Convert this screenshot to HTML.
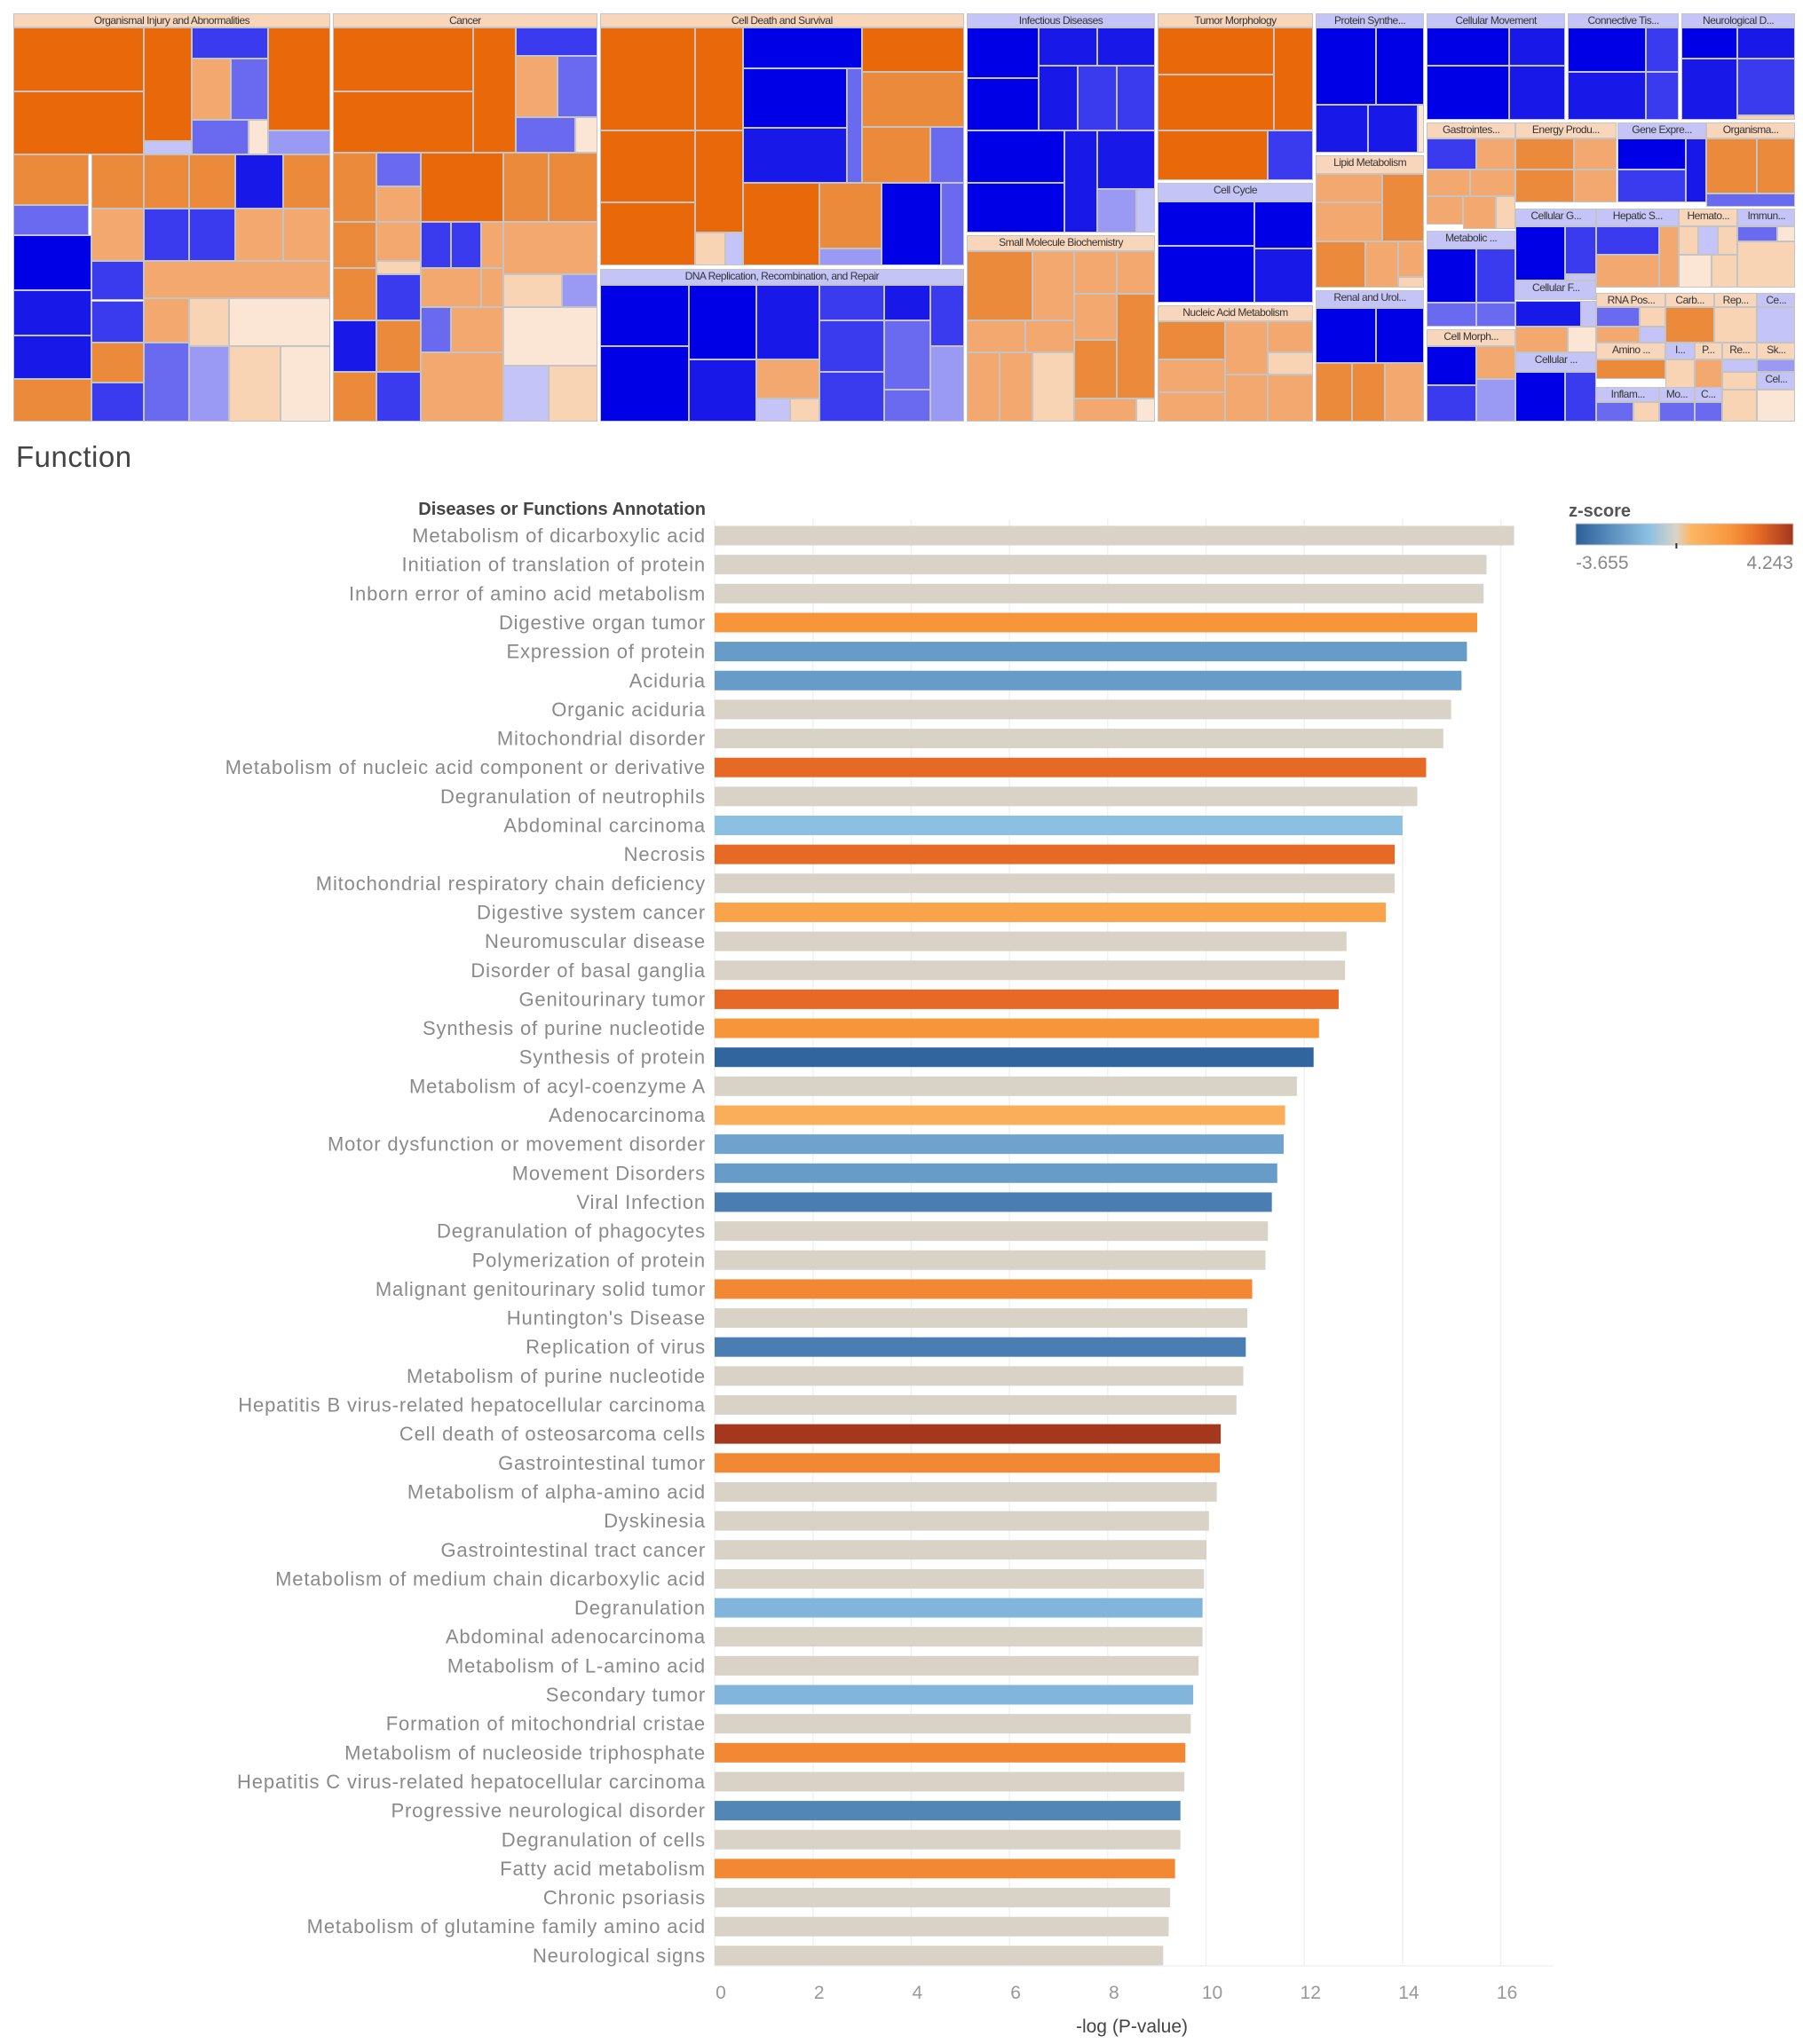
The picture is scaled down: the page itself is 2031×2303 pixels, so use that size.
<!DOCTYPE html>
<html><head><meta charset="utf-8"><style>
html,body{margin:0;padding:0;background:#fff;}
body{width:2031px;height:2303px;position:relative;overflow:hidden;font-family:"Liberation Sans",sans-serif;}
#treemap{position:absolute;left:0;top:0;width:2031px;height:490px;}
.tm{position:absolute;box-sizing:border-box;border:1.5px solid #c4c4c4;overflow:hidden;white-space:nowrap;font-size:12px;color:#333;text-align:center;line-height:14px;letter-spacing:-0.5px;}
#title{position:absolute;left:18px;top:496px;font-size:33px;color:#444;letter-spacing:0.5px;}
svg{position:absolute;left:0;top:0;}
</style></head><body>
<div id="treemap"></div>
<div id="title">Function</div>
<svg id="chart" width="2031" height="2303"></svg>
<script>
// ---------- bar chart data ----------
const categories = ["Metabolism of dicarboxylic acid","Initiation of translation of protein","Inborn error of amino acid metabolism","Digestive organ tumor","Expression of protein","Aciduria","Organic aciduria","Mitochondrial disorder","Metabolism of nucleic acid component or derivative","Degranulation of neutrophils","Abdominal carcinoma","Necrosis","Mitochondrial respiratory chain deficiency","Digestive system cancer","Neuromuscular disease","Disorder of basal ganglia","Genitourinary tumor","Synthesis of purine nucleotide","Synthesis of protein","Metabolism of acyl-coenzyme A","Adenocarcinoma","Motor dysfunction or movement disorder","Movement Disorders","Viral Infection","Degranulation of phagocytes","Polymerization of protein","Malignant genitourinary solid tumor","Huntington's Disease","Replication of virus","Metabolism of purine nucleotide","Hepatitis B virus-related hepatocellular carcinoma","Cell death of osteosarcoma cells","Gastrointestinal tumor","Metabolism of alpha-amino acid","Dyskinesia","Gastrointestinal tract cancer","Metabolism of medium chain dicarboxylic acid","Degranulation","Abdominal adenocarcinoma","Metabolism of L-amino acid","Secondary tumor","Formation of mitochondrial cristae","Metabolism of nucleoside triphosphate","Hepatitis C virus-related hepatocellular carcinoma","Progressive neurological disorder","Degranulation of cells","Fatty acid metabolism","Chronic psoriasis","Metabolism of glutamine family amino acid","Neurological signs"];
const pValues = [16.27,15.71,15.65,15.52,15.31,15.2,14.99,14.83,14.48,14.3,14.0,13.84,13.84,13.66,12.86,12.83,12.7,12.3,12.19,11.85,11.61,11.58,11.45,11.34,11.26,11.21,10.94,10.84,10.81,10.76,10.62,10.3,10.28,10.22,10.06,10.01,9.96,9.93,9.93,9.85,9.74,9.69,9.58,9.56,9.48,9.48,9.37,9.27,9.24,9.13];
const zScores = [null,null,null,2.0,-2.0,-2.0,null,null,3.0,null,-1.0,3.0,null,1.4,null,null,3.0,2.0,-3.5,null,0.9,-1.8,-2.0,-2.8,null,null,2.3,null,-2.8,null,null,4.2,2.3,null,null,null,null,-1.3,null,null,-1.3,null,2.3,null,-2.6,null,2.3,null,null,null];
const xTicks = [0,2,4,6,8,10,12,14,16];
const zRange = [-3.655,4.243];

const svg=document.getElementById('chart');const NS='http://www.w3.org/2000/svg';
function el(t,a,p){const e=document.createElementNS(NS,t);for(const k in a)e.setAttribute(k,a[k]);(p||svg).appendChild(e);return e;}
const X0=805, XU=55.35, Y0=603.5, DY=32.65, BH=22;
const xs=v=>X0+v*XU, ys=i=>Y0+i*DY;
const stops=[[-3.655,[43,95,154]],[-1,[140,192,227]],[0,[217,211,199]],[0.5,[253,183,101]],[2,[247,149,58]],[3,[230,106,38]],[4.243,[163,54,28]]];
function zc(z){if(z===null)return '#d9d3c7';for(let i=0;i<stops.length-1;i++){const a=stops[i],b=stops[i+1];if(z<=b[0]||i==stops.length-2){let t=Math.max(0,Math.min(1,(z-a[0])/(b[0]-a[0])));return 'rgb('+a[1].map((c,j)=>Math.round(c+(b[1][j]-c)*t)).join(',')+')';}}}
// gridlines
xTicks.forEach(t=>{const g=el('line',{x1:xs(t),x2:xs(t),y1:585,y2:2215,stroke:'#f1f1f1','stroke-width':1.5});


const l=el('text',{x:xs(t)+7,y:2252,'font-size':21,fill:'#999','text-anchor':'middle'});l.textContent=t;

});
el('line',{x1:X0,x2:1750,y1:2215,y2:2215,stroke:'#f0f0f0','stroke-width':1.5});
categories.forEach((c,i)=>{
 const r=el('rect',{x:X0,y:ys(i)-BH/2,width:xs(pValues[i])-X0,height:BH,fill:zc(zScores[i])});
 
 
 const t=el('text',{x:795,y:ys(i)+7.5,'font-size':22,'letter-spacing':0.85,fill:'#8a8a8a','text-anchor':'end'});t.textContent=c;
 
 
});
const h=el('text',{x:795,y:580,'font-size':20,'font-weight':'bold',fill:'#444','text-anchor':'end'});h.textContent='Diseases or Functions Annotation';

const xt=el('text',{x:1275,y:2290,'font-size':21,fill:'#444','text-anchor':'middle'});xt.textContent='-log (P-value)';

// legend
const defs=el('defs',{});const lg=el('linearGradient',{id:'zg',x1:0,x2:1,y1:0,y2:0},defs);
stops.forEach(s=>el('stop',{offset:(s[0]-zRange[0])/(zRange[1]-zRange[0]),'stop-color':'rgb('+s[1].join(',')+')'},lg));
const lt=el('text',{x:1767,y:582,'font-size':20,'font-weight':'bold',fill:'#555'});lt.textContent='z-score';

const lr=el('rect',{x:1775,y:590,width:245,height:24,fill:'url(#zg)',stroke:'#ccc'});

el('rect',{x:1775+245*(0-zRange[0])/(zRange[1]-zRange[0])-1,y:612,width:2,height:6,fill:'#333'});
const l1=el('text',{x:1775,y:641,'font-size':21,fill:'#888'});l1.textContent=zRange[0];

const l2=el('text',{x:2020,y:641,'font-size':21,fill:'#888','text-anchor':'end'});l2.textContent=zRange[1];


// ---------- treemap ----------
const C={O:'#e8680a',M:'#ec8a3c',L:'#f2a86e',P:'#f8d3b4',Q:'#fbe6d6',B:'#0000e6',B1:'#1818e8',B2:'#3a3aee',B3:'#6a6af0',B4:'#9a9af4',B5:'#c4c4f8',hP:'#f8d6bc',hB:'#c4c4f6'};
const rects=[
[10,10,253,21,'hP','Organismal Injury and Abnormalities'],[255,10,457,21,'hP','Cancer'],[459,10,738,21,'hP','Cell Death and Survival'],[740,10,884,21,'hB','Infectious Diseases'],[886,10,1005,21,'hP','Tumor Morphology'],[1007,10,1090,21,'hB','Protein Synthe...'],[1092,10,1198,21,'hB','Cellular Movement'],[1200,10,1285,21,'hB','Connective Tis...'],[1287,10,1374,21,'hB','Neurological D...'],
[10,21,110,70,'O'],[10,70,110,118,'O'],[110,21,147,108,'O'],[110,108,147,118,'B5'],[147,21,205,45,'B2'],[147,45,177,92,'L'],[177,45,205,92,'B3'],[147,92,190,118,'B3'],[190,92,205,118,'Q'],[205,21,253,100,'O'],[205,100,253,118,'B4'],
[10,118,68,157,'M'],[10,157,68,180,'B3'],[10,180,70,222,'B'],[10,222,70,257,'B1'],[10,257,70,290,'B1'],[10,290,70,323,'M'],
[70,118,110,160,'M'],[70,160,110,200,'L'],[110,160,145,200,'B2'],[145,160,180,200,'B2'],[180,160,217,200,'L'],[217,160,253,200,'L'],
[110,118,145,160,'M'],[145,118,180,160,'M'],[180,118,217,160,'B1'],[217,118,253,160,'M'],
[70,200,110,230,'B2'],[70,230,110,262,'B2'],[70,262,110,293,'M'],[70,293,110,323,'B2'],
[110,200,253,228,'L'],[110,228,145,262,'L'],[110,262,145,323,'B3'],[145,228,175,265,'P'],[175,228,253,265,'Q'],[145,265,175,323,'B4'],[175,265,215,323,'P'],[215,265,253,323,'Q'],
[255,21,362,70,'O'],[255,70,362,117,'O'],[362,21,395,117,'O'],[395,21,457,43,'B2'],[395,43,427,90,'L'],[427,43,457,90,'B3'],[395,90,440,117,'B3'],[440,90,457,117,'Q'],
[255,117,288,170,'M'],[288,117,322,143,'B3'],[288,143,322,170,'L'],[322,117,385,170,'O'],[385,117,420,170,'M'],[420,117,457,170,'M'],
[255,170,288,205,'M'],[255,205,288,245,'M'],[255,245,288,285,'B1'],[255,285,288,323,'M'],
[288,170,322,200,'L'],[288,200,322,210,'P'],[288,210,322,245,'B2'],[288,245,322,285,'M'],[288,285,322,323,'B2'],
[322,170,345,205,'B2'],[345,170,368,205,'B2'],[322,205,368,235,'L'],[368,170,385,205,'L'],[368,205,385,235,'L'],[322,235,345,270,'B3'],[345,235,385,270,'L'],[322,270,385,323,'L'],
[385,170,457,210,'L'],[385,210,430,235,'P'],[430,210,457,235,'B4'],[385,235,457,280,'Q'],[385,280,420,323,'B5'],[420,280,457,323,'P'],
[459,21,532,100,'O'],[532,21,569,100,'O'],[459,100,532,155,'O'],[459,155,532,203,'O'],[532,100,569,178,'O'],[532,178,555,203,'P'],[555,178,569,203,'B5'],
[569,21,660,52,'B'],[569,52,648,98,'B'],[569,98,648,140,'B1'],[648,52,660,140,'B3'],[660,21,738,55,'O'],[660,55,738,97,'M'],[660,97,712,140,'M'],[712,97,738,140,'B3'],
[569,140,627,203,'O'],[627,140,675,190,'M'],[627,190,675,203,'B4'],[675,140,720,203,'B'],[720,140,738,203,'B3'],
[459,206,738,218,'hB','DNA Replication, Recombination, and Repair'],[459,218,527,265,'B'],[459,265,527,323,'B'],[527,218,579,275,'B'],[579,218,627,275,'B1'],[527,275,579,323,'B1'],[579,275,627,305,'L'],[579,305,605,323,'B5'],[605,305,627,323,'P'],[627,218,677,245,'B2'],[627,245,677,285,'B2'],[627,285,677,323,'B2'],[677,218,712,245,'B1'],[677,245,712,298,'B3'],[677,298,712,323,'B3'],[712,218,738,265,'B2'],[712,265,738,323,'B4'],
[740,21,795,60,'B'],[740,60,795,100,'B'],[795,21,840,50,'B1'],[840,21,884,50,'B1'],[795,50,825,100,'B1'],[825,50,855,100,'B2'],[855,50,884,100,'B2'],[740,100,815,140,'B'],[740,140,815,178,'B'],[815,100,840,178,'B1'],[840,100,884,145,'B1'],[840,145,870,178,'B4'],[870,145,884,178,'B5'],
[740,180,884,192,'hP','Small Molecule Biochemistry'],[740,192,790,245,'M'],[790,192,822,245,'L'],[822,192,855,225,'L'],[855,192,884,225,'L'],[822,225,855,260,'L'],[740,245,785,270,'L'],[785,245,822,270,'L'],[740,270,765,323,'L'],[765,270,790,323,'L'],[790,270,822,323,'P'],[822,260,855,305,'M'],[855,225,884,305,'M'],[822,305,870,323,'L'],[870,305,884,323,'Q'],
[886,21,975,57,'O'],[886,57,975,100,'O'],[975,21,1005,100,'O'],[886,100,970,138,'O'],[970,100,1005,138,'B2'],
[886,140,1005,154,'hB','Cell Cycle'],[886,154,960,188,'B'],[886,188,960,232,'B'],[960,154,1005,190,'B'],[960,190,1005,232,'B1'],
[886,234,1005,246,'hP','Nucleic Acid Metabolism'],[886,246,938,275,'M'],[886,275,938,300,'L'],[886,300,938,323,'L'],[938,246,970,287,'L'],[938,287,970,323,'L'],[970,246,1005,270,'L'],[970,270,1005,287,'P'],[970,287,1005,323,'L'],
[1007,21,1053,80,'B'],[1053,21,1090,80,'B'],[1007,80,1047,117,'B1'],[1047,80,1085,117,'B1'],[1085,80,1090,117,'Q'],
[1007,119,1090,133,'hP','Lipid Metabolism'],[1007,133,1058,155,'L'],[1007,155,1058,185,'L'],[1058,133,1090,185,'M'],[1007,185,1045,220,'M'],[1045,185,1070,220,'L'],[1070,185,1090,212,'L'],[1070,212,1090,220,'P'],
[1007,222,1090,236,'hB','Renal and Urol...'],[1007,236,1053,278,'B'],[1053,236,1090,278,'B'],[1007,278,1035,323,'M'],[1035,278,1060,323,'M'],[1060,278,1090,323,'L'],
[1092,21,1155,50,'B'],[1092,50,1155,92,'B'],[1155,21,1198,50,'B1'],[1155,50,1198,92,'B1'],
[1092,94,1160,106,'hP','Gastrointes...'],[1092,106,1130,130,'B2'],[1130,106,1160,130,'L'],[1092,130,1125,150,'L'],[1125,130,1160,150,'L'],[1092,150,1120,172,'L'],[1120,150,1145,175,'L'],[1145,150,1160,175,'P'],
[1092,177,1160,190,'hB','Metabolic ...'],[1092,190,1130,232,'B'],[1130,190,1160,232,'B2'],[1092,232,1130,250,'B3'],[1130,232,1160,250,'B3'],
[1092,252,1160,265,'hP','Cell Morph...'],[1092,265,1130,295,'B'],[1130,265,1160,290,'L'],[1092,295,1130,323,'B2'],[1130,290,1160,323,'B4'],
[1200,21,1260,55,'B'],[1200,55,1260,92,'B1'],[1260,21,1285,55,'B2'],[1260,55,1285,92,'B2'],
[1160,94,1237,106,'hP','Energy Produ...'],[1160,106,1205,130,'M'],[1205,106,1237,130,'L'],[1160,130,1205,155,'M'],[1205,130,1237,155,'L'],
[1160,160,1222,173,'hB','Cellular G...'],[1160,173,1198,215,'B'],[1198,173,1222,210,'B2'],[1198,210,1222,215,'B5'],
[1160,215,1222,230,'hB','Cellular F...'],[1160,230,1210,250,'B1'],[1210,230,1222,250,'B5'],[1160,250,1200,270,'L'],[1200,250,1222,270,'Q'],
[1160,270,1222,285,'hB','Cellular ...'],[1160,285,1198,323,'B'],[1198,285,1222,323,'B2'],
[1287,21,1330,45,'B'],[1330,21,1374,45,'B1'],[1287,45,1330,92,'B1'],[1330,45,1374,88,'B2'],[1330,88,1374,92,'P'],
[1238,94,1306,106,'hB','Gene Expre...'],[1238,106,1290,130,'B'],[1238,130,1290,155,'B2'],[1290,106,1306,155,'B1'],
[1306,94,1374,106,'hP','Organisma...'],[1306,106,1345,148,'M'],[1345,106,1374,148,'M'],[1306,148,1374,158,'B3'],
[1222,160,1285,173,'hB','Hepatic S...'],[1222,173,1270,195,'B2'],[1222,195,1270,220,'L'],[1270,173,1285,220,'L'],
[1285,160,1330,173,'hP','Hemato...'],[1285,173,1300,195,'P'],[1300,173,1315,195,'B5'],[1315,173,1330,195,'P'],[1285,195,1310,220,'Q'],[1310,195,1330,220,'P'],
[1330,160,1374,173,'hB','Immun...'],[1330,173,1360,185,'B3'],[1360,173,1374,185,'Q'],[1330,185,1374,220,'P'],
[1222,224,1275,235,'hP','RNA Pos...'],[1222,235,1255,250,'B3'],[1255,235,1275,250,'P'],[1222,250,1255,262,'L'],[1255,250,1275,262,'B5'],
[1275,224,1312,235,'hP','Carb...'],[1275,235,1312,262,'M'],[1312,224,1345,235,'hP','Rep...'],[1312,235,1345,262,'P'],[1345,224,1374,235,'hB','Ce...'],[1345,235,1374,262,'B5'],
[1222,262,1275,275,'hP','Amino ...'],[1222,275,1275,290,'M'],[1275,262,1297,275,'hB','I...'],[1297,262,1318,275,'hP','P...'],[1318,262,1345,275,'hP','Re...'],[1345,262,1374,275,'hP','Sk...'],
[1275,275,1297,298,'P'],[1297,275,1318,298,'L'],[1318,275,1345,285,'B5'],[1345,275,1374,285,'B4'],[1318,285,1345,298,'P'],[1345,285,1374,298,'hB','Cel...'],
[1222,296,1270,308,'hB','Inflam...'],[1222,308,1250,323,'B3'],[1250,308,1270,323,'P'],[1270,296,1297,308,'hB','Mo...'],[1297,296,1318,308,'hB','C...'],[1270,308,1297,323,'B3'],[1297,308,1318,323,'B3'],[1318,298,1345,323,'P'],[1345,298,1374,323,'Q']
];
const S=2031/1380, tm=document.getElementById('treemap');
rects.forEach(r=>{const d=document.createElement('div');d.className='tm';
d.style.left=(r[0]*S)+'px';d.style.top=(r[1]*S)+'px';d.style.width=((r[2]-r[0])*S)+'px';d.style.height=((r[3]-r[1])*S)+'px';d.style.background=C[r[4]];
if(r[5]){d.textContent=r[5];}


tm.appendChild(d);});
</script>
</body></html>
